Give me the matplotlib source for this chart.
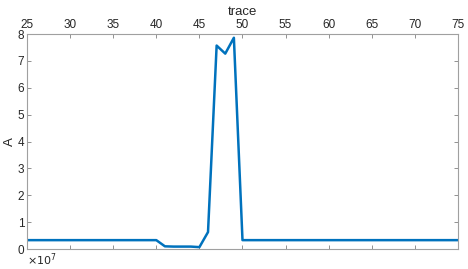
import numpy as np
import matplotlib
matplotlib.use('Agg')
import matplotlib.pyplot as plt

plt.rcParams['font.family'] = ['Liberation Sans', 'DejaVu Sans']

# trace index and amplitude (units of 1e7)
trace = list(range(25, 76))
amp_pre = [0.33] * 16          # traces 25..40
amp_mid = [0.10, 0.09, 0.09, 0.09, 0.07, 0.63, 7.57, 7.27, 7.86]  # 41..49
amp_post = [0.33] * 26         # traces 50..75
amp = amp_pre + amp_mid + amp_post

xticks = list(range(25, 80, 5))
yticks = list(range(0, 9))

fig = plt.figure(figsize=(4.68, 2.69), dpi=100)
ax = fig.add_axes([0.0577, 0.0743, 0.9209, 0.7993])

ax.plot(trace, np.array(amp), color=(0, 0.447, 0.741), linewidth=1.8)

ax.set_xlim(25, 75)
ax.set_ylim(0, 8)
ax.set_xticks(xticks)
ax.set_yticks(yticks)

edge = (0.15, 0.15, 0.15)
for s in ax.spines.values():
    s.set_color('#a0a0a0')
    s.set_linewidth(0.8)
ax.tick_params(direction='in', length=3, width=0.6, color='#808080',
               labelsize=8.5, labelcolor=edge, pad=2,
               top=True, bottom=True, left=True, right=True,
               labeltop=True, labelbottom=False)
ax.xaxis.set_label_position('top')
ax.set_xlabel('trace', fontsize=9.5, color=edge, labelpad=3)
ax.set_ylabel('A', fontsize=9.5, color=edge, labelpad=1)

ax.text(0.0, -0.01, r'$\times10^{7}$', transform=ax.transAxes,
        ha='left', va='top', fontsize=8, color=edge,
        math_fontfamily='dejavusans')

fig.savefig('out.png', dpi=100)
